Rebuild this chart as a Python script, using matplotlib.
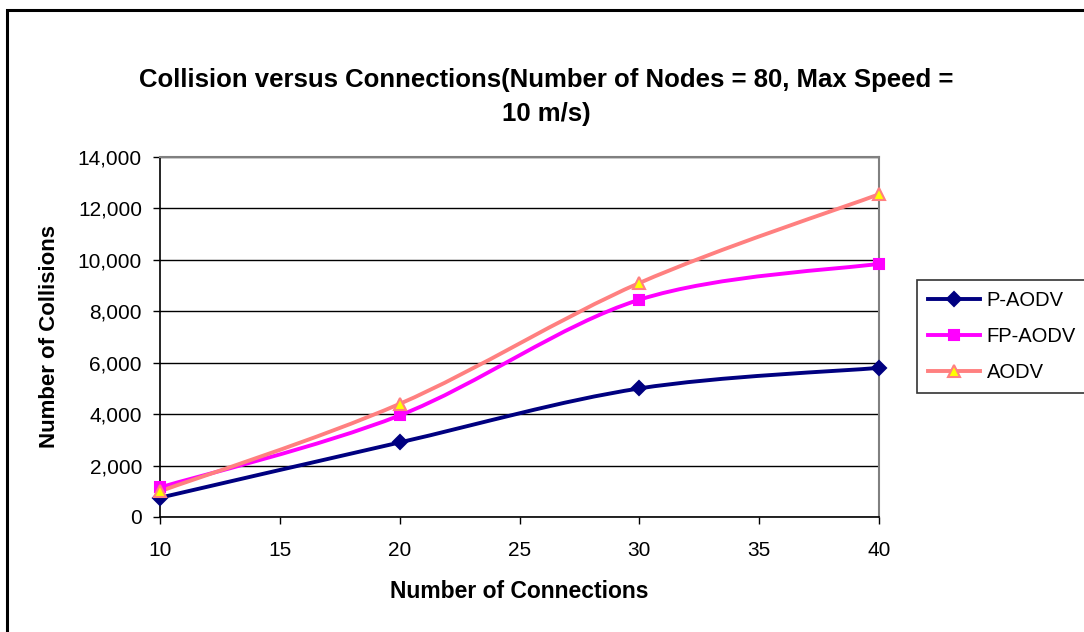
import matplotlib
matplotlib.use("Agg")
import matplotlib.pyplot as plt
import numpy as np
from matplotlib.path import Path
from matplotlib.patches import PathPatch, Rectangle
from matplotlib.ticker import FuncFormatter

plt.rcParams["font.family"] = ["Liberation Sans", "DejaVu Sans"]

TITLE = "Collision versus Connections(Number of Nodes = 80, Max Speed =\n10 m/s)"
connections = [10, 20, 30, 40]
p_aodv = [750, 2900, 5000, 5800]
fp_aodv = [1150, 3950, 8450, 9850]
aodv = [1000, 4400, 9100, 12550]


def smooth_path(xs, ys):
    # Excel-style smoothed line: Catmull-Rom segments as cubic Beziers
    pts = np.column_stack([xs, ys]).astype(float)
    ext = np.vstack([pts[0], pts, pts[-1]])
    verts = [tuple(pts[0])]
    codes = [Path.MOVETO]
    for i in range(1, len(ext) - 2):
        p0, p1, p2, p3 = ext[i - 1], ext[i], ext[i + 1], ext[i + 2]
        c1 = p1 + (p2 - p0) / 6
        c2 = p2 - (p3 - p1) / 6
        verts += [tuple(c1), tuple(c2), tuple(p2)]
        codes += [Path.CURVE4] * 3
    return Path(verts, codes)


fig = plt.figure(figsize=(10.84, 6.32), dpi=100)
fig.patches.append(Rectangle((7 / 1084, -0.1), 1.2, 1.1 - 10 / 632, transform=fig.transFigure,
                             fill=False, edgecolor="black", linewidth=2.2))
ax = fig.add_axes([160 / 1084, 1 - 517 / 632, 719 / 1084, 360 / 632])

series = [
    ("P-AODV", p_aodv, "#000080", "D", "#000080", "#000080", 7),
    ("FP-AODV", fp_aodv, "#FF00FF", "s", "#FF00FF", "#FF00FF", 7),
    ("AODV", aodv, "#FF8080", "^", "#FFFF00", "#FF8080", 9),
]
handles = []
for name, ys, color, mk, mfc, mec, ms in series:
    ax.add_patch(PathPatch(smooth_path(connections, ys), fill=False, edgecolor=color,
                           linewidth=2.8, zorder=3, clip_on=False))
    ax.plot(connections, ys, linestyle="none", marker=mk, markersize=ms,
            markerfacecolor=mfc, markeredgecolor=mec, markeredgewidth=1.5,
            zorder=4, clip_on=False)
    h, = ax.plot([], [], color=color, linewidth=2.8, marker=mk, markersize=ms,
                 markerfacecolor=mfc, markeredgecolor=mec, markeredgewidth=1.5, label=name)
    handles.append(h)

ax.set_xlim(10, 40)
ax.set_ylim(0, 14000)
ax.set_xticks(range(10, 41, 5))
ax.set_yticks(range(0, 14001, 2000))
ax.yaxis.set_major_formatter(FuncFormatter(lambda v, p: f"{int(v):,}"))
ax.yaxis.grid(True, color="black", linewidth=1.0)
ax.set_axisbelow(True)
ax.tick_params(labelsize=15, length=5, width=1, direction="out")
ax.tick_params(axis="x", pad=12)
ax.tick_params(axis="y", pad=8)
for s in ["top", "right"]:
    ax.spines[s].set_color("#808080")
    ax.spines[s].set_linewidth(1.5)
for s in ["left", "bottom"]:
    ax.spines[s].set_color("black")
    ax.spines[s].set_linewidth(1.2)

ax.set_xlabel("Number of Connections", fontsize=16.5, fontweight="bold", labelpad=15)
ax.set_ylabel("Number of Collisions", fontsize=16, fontweight="bold", labelpad=13)
fig.text(546 / 1084, 1 - 97 / 632, TITLE, ha="center", va="center", fontsize=18.5,
         fontweight="bold", linespacing=1.5)

leg = fig.legend(handles=handles, loc="upper left", bbox_to_anchor=(917 / 1084, 1 - 280 / 632),
                 fontsize=14.5, frameon=True, fancybox=False, edgecolor="black",
                 handlelength=2.6, borderpad=0.55, labelspacing=0.85, handletextpad=0.3,
                 borderaxespad=0)
leg.get_frame().set_linewidth(1.2)

fig.savefig("out.png", dpi=100)
